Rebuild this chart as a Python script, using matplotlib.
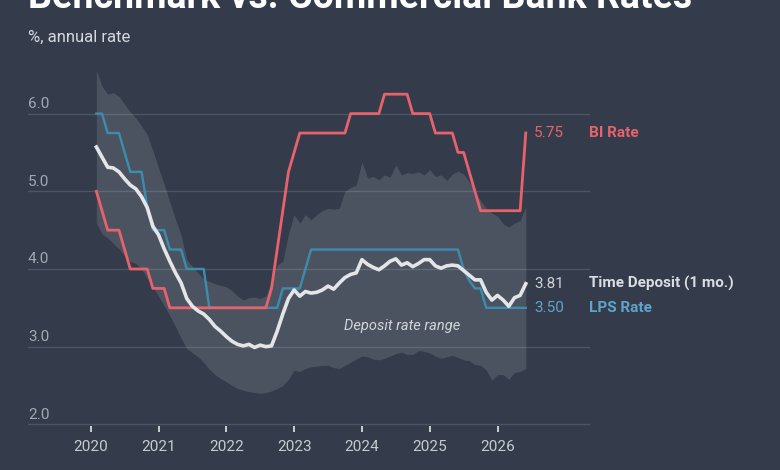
import matplotlib
matplotlib.use('Agg')
import matplotlib.pyplot as plt
import numpy as np

plt.rcParams['font.family'] = ['Roboto', 'DejaVu Sans']

### Données (mensuelles, fév. 2020 -> juin 2026)
mois = np.arange(1, 78)
t = 2020 + mois/12

bi_rate = [5.0, 4.75, 4.5, 4.5, 4.5, 4.25, 4.0, 4.0, 4.0, 4.0,
           3.75, 3.75, 3.75, 3.5, 3.5, 3.5, 3.5, 3.5, 3.5, 3.5,
           3.5, 3.5, 3.5, 3.5, 3.5, 3.5, 3.5, 3.5, 3.5, 3.5,
           3.5, 3.75, 4.25, 4.75, 5.25, 5.5, 5.75, 5.75, 5.75, 5.75,
           5.75, 5.75, 5.75, 5.75, 5.75, 6.0, 6.0, 6.0, 6.0, 6.0,
           6.0, 6.25, 6.25, 6.25, 6.25, 6.25, 6.0, 6.0, 6.0, 6.0,
           5.75, 5.75, 5.75, 5.75, 5.5, 5.5, 5.25, 5.0, 4.75, 4.75,
           4.75, 4.75, 4.75, 4.75, 4.75, 4.75, 5.75]

lps_rate = [6.0, 6.0, 5.75, 5.75, 5.75, 5.5, 5.25, 5.25, 5.25, 4.8,
            4.5, 4.5, 4.5, 4.25, 4.25, 4.25, 4.0, 4.0, 4.0, 4.0,
            3.5, 3.5, 3.5, 3.5, 3.5, 3.5, 3.5, 3.5, 3.5, 3.5,
            3.5, 3.5, 3.5, 3.75, 3.75, 3.75, 3.75, 4.0, 4.25, 4.25,
            4.25, 4.25, 4.25, 4.25, 4.25, 4.25, 4.25, 4.25, 4.25, 4.25,
            4.25, 4.25, 4.25, 4.25, 4.25, 4.25, 4.25, 4.25, 4.25, 4.25,
            4.25, 4.25, 4.25, 4.25, 4.25, 4.0, 3.85, 3.75, 3.75, 3.5,
            3.5, 3.5, 3.5, 3.5, 3.5, 3.5, 3.5]

depot = [5.57, 5.44, 5.31, 5.30, 5.25, 5.16, 5.08, 5.03, 4.93, 4.79,
         4.55, 4.44, 4.26, 4.10, 3.95, 3.82, 3.62, 3.52, 3.46, 3.42,
         3.35, 3.26, 3.20, 3.13, 3.07, 3.03, 3.01, 3.03, 2.99, 3.02,
         3.00, 3.01, 3.20, 3.42, 3.62, 3.73, 3.65, 3.71, 3.69, 3.70,
         3.73, 3.78, 3.74, 3.82, 3.89, 3.93, 3.95, 4.12, 4.06, 4.02,
         3.99, 4.04, 4.10, 4.13, 4.05, 4.08, 4.03, 4.07, 4.12, 4.12,
         4.04, 4.01, 4.04, 4.05, 4.04, 3.98, 3.92, 3.86, 3.86, 3.70,
         3.60, 3.66, 3.60, 3.52, 3.63, 3.66, 3.81]

haut = [6.56, 6.35, 6.25, 6.27, 6.22, 6.12, 6.02, 5.94, 5.84, 5.73,
        5.52, 5.30, 5.09, 4.86, 4.64, 4.43, 4.12, 4.03, 3.95, 3.87,
        3.84, 3.81, 3.79, 3.77, 3.72, 3.65, 3.60, 3.63, 3.64, 3.62,
        3.65, 3.85, 4.05, 4.10, 4.45, 4.70, 4.59, 4.70, 4.63, 4.70,
        4.75, 4.78, 4.77, 4.78, 5.00, 5.05, 5.08, 5.38, 5.17, 5.19,
        5.15, 5.21, 5.18, 5.34, 5.21, 5.24, 5.23, 5.25, 5.21, 5.28,
        5.19, 5.21, 5.14, 5.22, 5.26, 5.22, 5.12, 5.00, 4.88, 4.78,
        4.72, 4.68, 4.58, 4.54, 4.59, 4.62, 4.80]

bas = [4.59, 4.45, 4.40, 4.33, 4.26, 4.17, 4.10, 4.07, 4.00, 3.88,
       3.78, 3.65, 3.53, 3.40, 3.26, 3.11, 2.98, 2.92, 2.87, 2.80,
       2.71, 2.64, 2.59, 2.55, 2.50, 2.46, 2.44, 2.42, 2.41, 2.40,
       2.41, 2.43, 2.46, 2.50, 2.58, 2.70, 2.68, 2.72, 2.74, 2.75,
       2.76, 2.76, 2.73, 2.72, 2.76, 2.80, 2.84, 2.88, 2.87, 2.84,
       2.83, 2.85, 2.88, 2.91, 2.93, 2.90, 2.90, 2.95, 2.94, 2.92,
       2.88, 2.85, 2.87, 2.89, 2.86, 2.83, 2.82, 2.77, 2.76, 2.70,
       2.57, 2.64, 2.64, 2.58, 2.67, 2.68, 2.72]

annees = [2020, 2021, 2022, 2023, 2024, 2025, 2026]
yticks = [2.0, 3.0, 4.0, 5.0, 6.0]

### Couleurs
fond = '#343c4b'
grille = '#4d5564'
rouge = '#e8626b'
bleu = '#3b8db0'
bleu_txt = '#5ea5c9'
blanc = '#e3e5e8'
ftsize = 11

### Tracé
fig = plt.figure(figsize=(7.8, 4.7), dpi=100)
fig.patch.set_facecolor(fond)
ax = fig.add_axes([28/780, 0.0938, 562/780, 0.7802])
ax.set_facecolor(fond)

ax.fill_between(t, bas, haut, color='#ffffff', alpha=0.12, linewidth=0, zorder=1)
ax.plot(t, lps_rate, color=bleu, lw=1.7, zorder=3)
ax.plot(t, bi_rate, color=rouge, lw=2.0, zorder=4)
ax.plot(t, depot, color=blanc, lw=2.6, zorder=5)

ax.set_xlim(2019.075, 2027.364)
ax.set_ylim(1.98, 6.7)

for s in ax.spines.values():
    s.set_visible(False)

ax.set_yticks(yticks)
ax.yaxis.grid(True, color=grille, lw=1)
ax.set_axisbelow(True)
ax.tick_params(axis='y', length=0, labelleft=False)
for v in yticks:
    ax.annotate('%.1f' % v, xy=(0, v), xycoords=('axes fraction', 'data'),
                xytext=(0, 4), textcoords='offset points', va='baseline', ha='left',
                color='#a3a9b3', fontsize=ftsize)

ax.set_xticks(annees)
ax.set_xticklabels([str(a) for a in annees])
ax.tick_params(axis='x', length=4, width=1.3, color='#d5d8dc', pad=6,
               labelcolor='#c7cbd1', labelsize=ftsize)

# étiquettes à droite
ax.text(2026.54, bi_rate[-1], '%.2f' % bi_rate[-1], color=rouge, fontsize=ftsize,
        va='center', ha='left', clip_on=False)
ax.text(2027.353, bi_rate[-1], 'BI Rate', color=rouge, fontsize=ftsize,
        fontweight='bold', va='center', ha='left', clip_on=False)
ax.text(2026.54, depot[-1], '%.2f' % depot[-1], color='#cfd2d7', fontsize=ftsize,
        va='center', ha='left', clip_on=False)
ax.text(2027.353, depot[-1], 'Time Deposit (1 mo.)', color='#dadde1', fontsize=ftsize,
        fontweight='bold', va='center', ha='left', clip_on=False)
ax.text(2026.54, lps_rate[-1], '%.2f' % lps_rate[-1], color=bleu_txt, fontsize=ftsize,
        va='center', ha='left', clip_on=False)
ax.text(2027.353, lps_rate[-1], 'LPS Rate', color=bleu_txt, fontsize=ftsize,
        fontweight='bold', va='center', ha='left', clip_on=False)

ax.text(2024.6, 3.26, 'Deposit rate range', color='#d2d5da', fontsize=10.5,
        style='italic', ha='center', va='center')

# titre coupé en haut, comme sur la référence
fig.text(28/780, 1 - 7.5/470, 'Benchmark vs. Commercial Bank Rates', color='white',
         fontsize=27, fontweight='bold', va='baseline', ha='left')
fig.text(28/780, 1 - 42/470, '%, annual rate', color='#d5d9de', fontsize=12,
         va='baseline', ha='left')

fig.savefig('out.png', dpi=100, facecolor=fond)
